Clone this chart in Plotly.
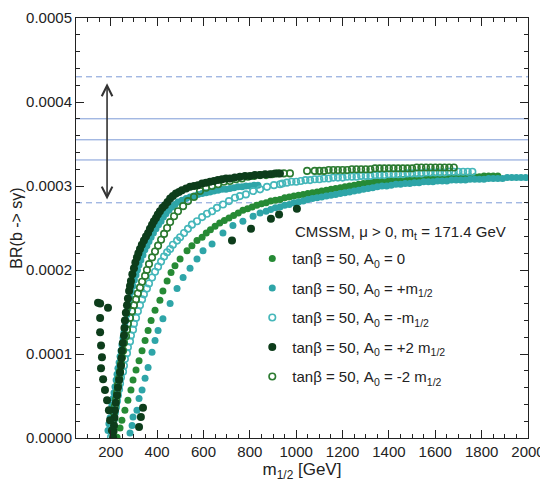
import plotly.graph_objects as go

BR_UNIT = 1e-4  # all BR lists below are in units of 1e-4

# ---------------- tan(beta)=50, A0 = 0  (filled green) ----------------
m_a0_zero = [227, 240, 248, 261, 274, 287, 296, 309, 322, 335, 348, 361, 374, 391, 412, 425, 443, 460,
             477, 499, 529, 550, 572, 594, 612,
             630, 650, 670, 690, 710, 730, 750, 770, 790, 810, 830, 850, 870, 890, 910, 930, 950, 970,
             990, 1010, 1030, 1050, 1070, 1090, 1110, 1130, 1150, 1170, 1190, 1210, 1230, 1250, 1270,
             1290, 1310, 1330, 1350, 1370, 1390, 1410, 1430, 1450, 1470, 1490, 1510, 1530, 1550, 1570,
             1590, 1610, 1630, 1650, 1670, 1690, 1710, 1730, 1750, 1770, 1790, 1810, 1830, 1850, 1870]
br_a0_zero = [0.01, 0.12, 0.21, 0.33, 0.45, 0.57, 0.69, 0.81, 0.92, 1.04, 1.16, 1.28, 1.40, 1.52, 1.64,
              1.75, 1.87, 1.97, 2.05, 2.13, 2.23, 2.29, 2.35, 2.39, 2.44,
              2.48, 2.52, 2.56, 2.59, 2.62, 2.65, 2.68, 2.71, 2.73, 2.75, 2.77, 2.79, 2.80, 2.82, 2.83,
              2.84, 2.86, 2.87, 2.88, 2.89, 2.90, 2.91, 2.92, 2.93, 2.94, 2.95, 2.96, 2.97, 2.98, 2.99,
              3.00, 3.01, 3.02, 3.03, 3.04, 3.05, 3.05, 3.06, 3.06, 3.07, 3.07, 3.08, 3.08, 3.08, 3.09,
              3.09, 3.09, 3.09, 3.10, 3.10, 3.10, 3.10, 3.10, 3.11, 3.11, 3.11, 3.11, 3.11, 3.11, 3.12,
              3.12, 3.12, 3.12]

# ---------------- tan(beta)=50, A0 = +m1/2  (filled teal) ----------------
m_a0_plus = [188, 192, 197, 201, 205, 210, 214, 218, 223, 227, 231, 236, 240, 244, 248, 253, 257, 261,
             266, 270, 274, 279, 283, 289, 296, 302, 309, 315, 322, 330, 339, 347, 356, 365, 374, 384,
             395, 406, 417, 427, 438, 451, 464, 477, 490, 507, 525, 542, 559, 576, 594, 611, 628, 645,
             663, 680, 697, 714, 732, 749, 766, 783, 801, 818, 835,
             283, 292, 296, 313, 322, 335, 348, 361, 378, 391, 404, 425, 456, 486, 512, 542, 572, 598,
             637, 684, 727, 770, 814, 844,
             870, 890, 910, 930, 950, 970, 990, 1010, 1030, 1050, 1070, 1090, 1110, 1130, 1150, 1170,
             1190, 1210, 1230, 1250, 1270, 1290, 1310, 1330, 1350, 1370, 1390, 1410, 1430, 1450, 1470,
             1490, 1510, 1530, 1550, 1570, 1590, 1610, 1630, 1650, 1670, 1690, 1710, 1730, 1750, 1770,
             1790, 1810, 1830, 1850, 1870, 1890, 1910, 1930, 1950, 1970, 1990]
br_a0_plus = [0.09, 0.17, 0.24, 0.32, 0.39, 0.47, 0.54, 0.61, 0.69, 0.76, 0.83, 0.90, 0.97, 1.04, 1.11,
              1.19, 1.26, 1.33, 1.40, 1.47, 1.54, 1.61, 1.67, 1.74, 1.81, 1.88, 1.94, 2.00, 2.06, 2.12,
              2.18, 2.24, 2.29, 2.34, 2.39, 2.44, 2.49, 2.54, 2.58, 2.63, 2.67, 2.71, 2.75, 2.78, 2.81,
              2.83, 2.85, 2.87, 2.88, 2.90, 2.91, 2.92, 2.93, 2.94, 2.95, 2.96, 2.96, 2.97, 2.98, 2.99,
              2.99, 3.00, 3.00, 3.01, 3.01,
              0.06, 0.15, 0.25, 0.33, 0.47, 0.57, 0.71, 0.84, 1.02, 1.16, 1.28, 1.42, 1.60, 1.78, 1.91,
              2.02, 2.13, 2.23, 2.31, 2.44, 2.53, 2.58, 2.64, 2.68,
              2.70, 2.72, 2.74, 2.75, 2.77, 2.78, 2.80, 2.81, 2.82, 2.84, 2.85, 2.86, 2.87, 2.88, 2.89,
              2.90, 2.91, 2.92, 2.93, 2.94, 2.95, 2.96, 2.97, 2.98, 2.99, 3.00, 3.00, 3.01, 3.02, 3.02,
              3.03, 3.03, 3.04, 3.04, 3.05, 3.05, 3.05, 3.06, 3.06, 3.06, 3.07, 3.07, 3.07, 3.07, 3.08,
              3.08, 3.08, 3.08, 3.09, 3.09, 3.09, 3.09, 3.10, 3.10, 3.10, 3.10, 3.10]

# ---------------- tan(beta)=50, A0 = -m1/2  (open teal) ----------------
m_a0_minus = [201, 205, 210, 214, 218, 223, 227, 231, 236, 240, 244, 253, 257, 261, 270, 274, 283, 287,
              296, 300, 309, 317, 326, 335, 343, 356, 365, 378, 391, 404, 417, 430, 443, 456, 468, 486,
              499, 516, 533, 550, 572, 594, 615, 637, 658, 684, 710, 736, 757, 783, 814, 844, 874, 904,
              930, 940, 960, 980, 1000, 1020, 1040, 1060, 1080, 1100, 1120, 1140, 1160, 1180, 1200, 1220,
              1240, 1260, 1280, 1300, 1320, 1340, 1360, 1380, 1400, 1420, 1440, 1460, 1480, 1500, 1520,
              1540, 1560, 1580, 1600, 1620, 1640, 1660, 1680, 1700, 1720, 1740, 1760]
br_a0_minus = [0.01, 0.08, 0.15, 0.22, 0.30, 0.37, 0.44, 0.51, 0.58, 0.65, 0.72, 0.79, 0.86, 0.94, 1.01,
               1.08, 1.15, 1.22, 1.29, 1.36, 1.43, 1.51, 1.58, 1.65, 1.71, 1.78, 1.84, 1.91, 1.98, 2.04,
               2.10, 2.16, 2.21, 2.25, 2.30, 2.35, 2.39, 2.44, 2.49, 2.54, 2.58, 2.63, 2.67, 2.70, 2.74,
               2.78, 2.82, 2.86, 2.88, 2.90, 2.94, 2.96, 2.99, 3.01, 3.02,
               3.03, 3.04, 3.05, 3.05, 3.06, 3.07, 3.07, 3.08, 3.08, 3.09, 3.09, 3.10, 3.10, 3.10, 3.11,
               3.11, 3.11, 3.12, 3.12, 3.12, 3.13, 3.13, 3.13, 3.14, 3.14, 3.14, 3.14, 3.15, 3.15, 3.15,
               3.15, 3.16, 3.16, 3.16, 3.16, 3.16, 3.17, 3.17, 3.17, 3.17, 3.17, 3.17]

# ---------------- tan(beta)=50, A0 = +2 m1/2  (filled dark green) ----------------
m_a0_plus2 = [210, 212, 214, 216, 218, 222, 227, 231, 236, 240, 244, 246, 248, 252, 257, 259, 261, 265,
              270, 274, 279, 283, 287, 293, 300, 306, 313, 319, 326, 334, 343, 352, 361, 369, 378, 386,
              395, 403, 412, 423, 434, 445, 456, 468, 481, 494, 507, 525, 542, 559, 576, 594, 611, 628,
              645, 662, 680, 697, 714, 735, 757, 779, 801, 822, 844, 866, 887, 909, 930,
              145, 154, 154, 154, 158, 162, 158, 167, 175, 184, 192, 197, 205, 188,
              322, 330, 339, 723, 805, 891, 926, 1003]
br_a0_plus2 = [0.01, 0.08, 0.15, 0.24, 0.33, 0.42, 0.51, 0.60, 0.69, 0.78, 0.86, 0.95, 1.04, 1.13, 1.22,
               1.31, 1.40, 1.49, 1.58, 1.66, 1.75, 1.81, 1.87, 1.95, 2.02, 2.09, 2.15, 2.20, 2.25, 2.30,
               2.35, 2.40, 2.44, 2.49, 2.54, 2.58, 2.62, 2.66, 2.70, 2.74, 2.77, 2.81, 2.85, 2.88, 2.91,
               2.93, 2.95, 2.97, 2.99, 3.00, 3.01, 3.03, 3.04, 3.05, 3.06, 3.07, 3.08, 3.09, 3.09, 3.10,
               3.11, 3.12, 3.12, 3.13, 3.13, 3.14, 3.14, 3.15, 3.15,
               1.61, 1.60, 1.43, 1.26, 1.10, 0.96, 0.83, 0.70, 0.57, 0.45, 0.33, 0.21, 0.09, 1.55,
               0.13, 0.25, 0.36, 2.35, 2.49, 2.61, 2.66, 2.73]

# ---------------- tan(beta)=50, A0 = -2 m1/2  (open green) ----------------
m_a0_minus2 = [210, 214, 218, 223, 227, 231, 236, 240, 244, 248, 253, 257, 266, 270, 274, 283, 292, 300,
               309, 317, 326, 335, 348, 356, 365, 378, 391, 404, 417, 430, 443, 456, 473, 490, 512, 533,
               559, 585, 611, 637, 663, 688, 714, 740, 766, 792, 818, 844, 870, 896, 921, 947, 973, 1047,
               1080, 1100, 1120, 1140, 1160, 1180, 1200, 1220, 1240, 1260, 1280, 1300, 1320, 1340, 1360,
               1380, 1400, 1420, 1440, 1460, 1480, 1500, 1520, 1540, 1560, 1580, 1600, 1620, 1640, 1660,
               1680]
br_a0_minus2 = [0.21, 0.30, 0.38, 0.46, 0.54, 0.63, 0.71, 0.79, 0.88, 0.96, 1.04, 1.13, 1.21, 1.29, 1.36,
                1.43, 1.51, 1.58, 1.65, 1.72, 1.79, 1.86, 1.93, 2.00, 2.07, 2.15, 2.22, 2.29, 2.36, 2.43,
                2.50, 2.57, 2.64, 2.70, 2.76, 2.82, 2.87, 2.94, 2.98, 3.00, 3.02, 3.05, 3.06, 3.08, 3.09,
                3.11, 3.12, 3.13, 3.13, 3.14, 3.15, 3.15, 3.15, 3.18,
                3.18, 3.18, 3.18, 3.19, 3.19, 3.19, 3.19, 3.19, 3.20, 3.20, 3.20, 3.20, 3.20, 3.21, 3.21,
                3.21, 3.21, 3.21, 3.21, 3.21, 3.21, 3.21, 3.22, 3.22, 3.22, 3.22, 3.22, 3.22, 3.22, 3.22,
                3.22]

# experimental band lines (units 1e-4) and their styles
ref_lines = [4.30, 3.80, 3.55, 3.31, 2.80]
ref_dash = ["dash", "solid", "solid", "solid", "dash"]

# double arrow (hand drawn in original)
arrow_m = 184
arrow_br_top = 4.24
arrow_br_bottom = 2.84

y_ticks = [0.0, 1.0, 2.0, 3.0, 4.0, 5.0]
y_tick_labels = ["0.0000", "0.0001", "0.0002", "0.0003", "0.0004", "0.0005"]

def scale(v):
    return [x * BR_UNIT for x in v]

series = [
    # (name, m, br, symbol, color, size, legendrank)
    ("tanβ = 50, A<sub>0</sub> = 0", m_a0_zero, br_a0_zero, "circle", "#268a35", 7, 1),
    ("tanβ = 50, A<sub>0</sub> = +m<sub>1/2</sub>", m_a0_plus, br_a0_plus, "circle", "#2ea5a8", 7, 2),
    ("tanβ = 50, A<sub>0</sub> = -m<sub>1/2</sub>", m_a0_minus, br_a0_minus, "circle-open", "#45b7ba", 6.5, 3),
    ("tanβ = 50, A<sub>0</sub> = -2 m<sub>1/2</sub>", m_a0_minus2, br_a0_minus2, "circle-open", "#2b7a30", 6.5, 5),
    ("tanβ = 50, A<sub>0</sub> = +2 m<sub>1/2</sub>", m_a0_plus2, br_a0_plus2, "circle", "#0d3d1b", 8, 4),
]

fig = go.Figure()
for name, m, br, sym, col, sz, rank in series:
    mk = dict(symbol=sym, color=col, size=sz)
    if "open" in sym:
        mk["line"] = dict(color=col, width=1.6)
    fig.add_trace(go.Scatter(x=m, y=scale(br), mode="markers", name=name, marker=mk,
                             legendrank=rank, legendgroup=name, hoverinfo="skip"))

for v, d in zip(ref_lines, ref_dash):
    fig.add_hline(y=v * BR_UNIT, line=dict(color="#7d9bd6", width=1, dash="6px,4px" if d == "dash" else "solid"),
                  layer="below")

fig.add_annotation(x=arrow_m, y=arrow_br_bottom * BR_UNIT, ax=arrow_m, ay=arrow_br_top * BR_UNIT,
                   xref="x", yref="y", axref="x", ayref="y", text="", showarrow=True,
                   arrowside="end+start", arrowhead=5, arrowsize=1.3, arrowwidth=1.6, arrowcolor="#333333")

fig.add_annotation(x=0.48, y=0.49, xref="paper", yref="paper", xanchor="left", yanchor="middle",
                   text="CMSSM, μ > 0, m<sub>t</sub> = 171.4 GeV", showarrow=False,
                   font=dict(size=15, color="#222222"))

# page has an 8px body margin, so the figure is 8px smaller than the window
fig.update_layout(
    width=540, height=486,
    margin=dict(l=68, r=20, t=10, b=56, autoexpand=False),
    paper_bgcolor="white", plot_bgcolor="white",
    font=dict(family="Liberation Sans, Arial, sans-serif", size=15, color="#222222"),
    legend=dict(x=0.39, y=0.466, xanchor="left", yanchor="top", bgcolor="rgba(0,0,0,0)",
                font=dict(size=15), tracegroupgap=7),
)
fig.update_xaxes(range=[50, 2000], tickmode="linear", tick0=0, dtick=200, ticks="inside", ticklen=8,
                 tickcolor="#222", showline=True, linecolor="#222", linewidth=1, mirror="ticks",
                 showgrid=False, zeroline=False, automargin=False,
                 minor=dict(dtick=50, tick0=0, ticks="inside", ticklen=4, tickcolor="#222", showgrid=False),
                 title=dict(text="m<sub>1/2</sub> [GeV]", font=dict(size=17), standoff=4),
                 tickfont=dict(size=15))
fig.update_yaxes(range=[0, 5e-4], tickmode="array", tickvals=scale(y_ticks), ticktext=y_tick_labels,
                 ticks="inside", ticklen=8, tickcolor="#222", showline=True, linecolor="#222", linewidth=1,
                 mirror="ticks", showgrid=False, zeroline=False, automargin=False,
                 minor=dict(dtick=2e-5, tick0=0, ticks="inside", ticklen=4, tickcolor="#222", showgrid=False),
                 title=dict(text="BR(b -> sγ)", font=dict(size=16), standoff=2),
                 tickfont=dict(size=15))

fig.write_html("out.html")
